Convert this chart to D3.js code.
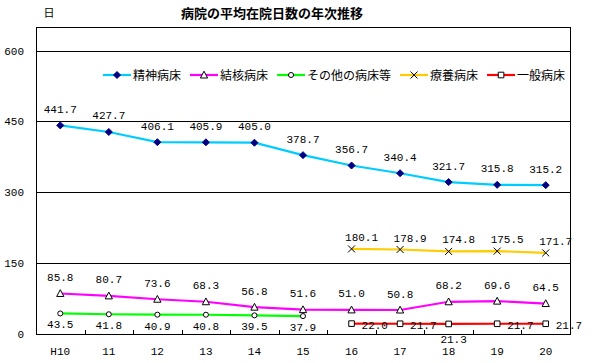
<!DOCTYPE html>
<html lang="ja">
<head>
<meta charset="utf-8"/>
<style>
  body { margin: 0; background: #fff; }
  svg { display: block; }
  .num { font-family: "Liberation Mono", "DejaVu Sans Mono", monospace; font-size: 11px; fill: #000; }
  .jp { font-family: "Noto Sans CJK JP", sans-serif; fill: #000; }
</style>
</head>
<body>
<svg id="chart" width="594" height="363"></svg>

<script src="https://d3js.org/d3.v7.min.js"></script>
<script>
// data
let years   = ["H10", "11", "12", "13", "14", "15", "16", "17", "18", "19", "20"]
let seishin = [441.7, 427.7, 406.1, 405.9, 405.0, 378.7, 356.7, 340.4, 321.7, 315.8, 315.2]
let kekkaku = [85.8, 80.7, 73.6, 68.3, 56.8, 51.6, 51.0, 50.8, 68.2, 69.6, 64.5]
let sonota  = [43.5, 41.8, 40.9, 40.8, 39.5, 37.9, null, null, null, null, null]
let ryoyo   = [null, null, null, null, null, null, 180.1, 178.9, 174.8, 175.5, 171.7]
let ippan   = [null, null, null, null, null, null, 22.0, 21.7, 21.3, 21.7, 21.7]
let yTicks  = [0, 150, 300, 450, 600]
let names   = ["精神病床", "結核病床", "その他の病床等", "療養病床", "一般病床"]

let plotL = 36, plotR = 570, plotT = 27, plotB = 334
let svg = d3.select("#chart")

let x = d3.scaleBand().domain(years).range([plotL, plotR])
let y = d3.scaleLinear().domain([0, 650]).range([plotB, plotT])
let cx = d => x(d) + x.bandwidth() / 2
let fmt = d3.format(".1f")

// marker shapes
let markers = {
  diamond: "M0,-3.5L3.5,0L0,3.5L-3.5,0Z",
  triangle: "M0,-3.8L3.6,3L-3.6,3Z",
  circle: d3.symbol(d3.symbolCircle, 20)(),
  cross: "M-3.5,-3.5L3.5,3.5M-3.5,3.5L3.5,-3.5",
  square: "M-2.8,-2.8H2.8V2.8H-2.8Z"
}

let series = [
  {name: names[0], values: seishin, color: "#00ccff", marker: "diamond", fill: "#000080", stroke: "#000080", label: "above"},
  {name: names[1], values: kekkaku, color: "#ff00ff", marker: "triangle", fill: "#fff", stroke: "#000", label: "above"},
  {name: names[2], values: sonota, color: "#00ff00", marker: "circle", fill: "#fff", stroke: "#000", label: "below"},
  {name: names[3], values: ryoyo, color: "#ffcc00", marker: "cross", fill: "none", stroke: "#000", label: "aboveRight"},
  {name: names[4], values: ippan, color: "#ff0000", marker: "square", fill: "#fff", stroke: "#000", label: "right"}
]
// where the 一般病床 labels sit (H18 sits under its point)
let ippanLabelPos = ["right", "right", "below", "right", "right"]

// title + unit
svg.append("text").attr("class", "jp")
  .attr("x", 272).attr("y", 18)
  .attr("text-anchor", "middle")
  .attr("font-size", 13).attr("font-weight", "bold")
  .text("病院の平均在院日数の年次推移")
svg.append("text").attr("class", "jp")
  .attr("x", 49).attr("y", 17)
  .attr("text-anchor", "middle")
  .attr("font-size", 11)
  .text("日")

// y grid + labels
let yAxis = svg.append("g")
  .attr("transform", `translate(${plotL},0)`)
  .call(d3.axisLeft(y).tickValues(yTicks).tickSize(-(plotR - plotL)).tickPadding(12).tickFormat(d3.format("d")))
yAxis.select(".domain").remove()
yAxis.selectAll("line").attr("stroke", "#000").attr("shape-rendering", "crispEdges")
yAxis.selectAll("text").attr("font-size", 11)
  .attr("font-family", "Liberation Mono, DejaVu Sans Mono, monospace")

// x labels
let xAxis = svg.append("g")
  .attr("transform", `translate(0,${plotB})`)
  .call(d3.axisBottom(x).tickSize(0).tickPadding(13))
xAxis.select(".domain").remove()
xAxis.selectAll("text").attr("font-size", 11)
  .attr("font-family", "Liberation Mono, DejaVu Sans Mono, monospace")

// small inward ticks between categories
svg.append("g").selectAll("line")
  .data(years.slice(1))
  .enter().append("line")
  .attr("x1", d => Math.round(x(d)) + 0.5).attr("x2", d => Math.round(x(d)) + 0.5)
  .attr("y1", plotB - 4).attr("y2", plotB)
  .attr("stroke", "#000")

// lines
let line = d3.line()
  .defined(d => d.v != null)
  .x(d => cx(d.year))
  .y(d => y(d.v))

series.forEach(s => {
  s.points = years.map((yr, i) => ({year: yr, v: s.values[i]}))
})

svg.append("g").selectAll("path")
  .data(series)
  .enter().append("path")
  .attr("d", s => line(s.points))
  .attr("fill", "none")
  .attr("stroke", s => s.color)
  .attr("stroke-width", 2.2)

// markers
series.forEach(s => {
  svg.append("g").selectAll("path")
    .data(s.points.filter(p => p.v != null))
    .enter().append("path")
    .attr("transform", p => `translate(${cx(p.year)},${y(p.v)})`)
    .attr("d", markers[s.marker])
    .attr("fill", s.fill)
    .attr("stroke", s.stroke)
    .attr("stroke-width", 1)
})

// data labels
series.forEach(s => {
  let pts = s.points.filter(p => p.v != null)
  svg.append("g").selectAll("text")
    .data(pts)
    .enter().append("text")
    .attr("class", "num")
    .text(p => fmt(p.v))
    .each(function(p, i) {
      let px = cx(p.year), py = y(p.v)
      let pos = s.label == "right" ? ippanLabelPos[i] : s.label
      let t = d3.select(this)
      if (pos == "above") t.attr("x", px).attr("y", py - 12.5).attr("text-anchor", "middle")
      if (pos == "below") t.attr("x", px).attr("y", py + 15).attr("text-anchor", "middle")
      if (pos == "aboveRight") t.attr("x", px + 10).attr("y", py - 8).attr("text-anchor", "middle")
      if (pos == "right") t.attr("x", px + 10).attr("y", py + 5.5).attr("text-anchor", "start")
      if (pos == "below" && s.label == "right") t.attr("x", px + 5).attr("y", py + 19)
    })
})

// legend
let lg = svg.append("g").attr("transform", "translate(103,75)")
let lx = 0
series.forEach(s => {
  let g = lg.append("g").attr("transform", `translate(${lx},0)`)
  g.append("line").attr("x1", 0).attr("x2", 28).attr("y1", 0).attr("y2", 0)
    .attr("stroke", s.color).attr("stroke-width", 2.2)
  g.append("path").attr("transform", "translate(14,0)")
    .attr("d", markers[s.marker])
    .attr("fill", s.fill).attr("stroke", s.stroke)
  let t = g.append("text").attr("class", "jp")
    .attr("x", 30).attr("y", 4.5)
    .attr("font-size", 12)
    .text(s.name)
  lx += 30 + t.node().getComputedTextLength() + 9
})

// plot border on top
svg.append("rect")
  .attr("x", plotL + 0.5).attr("y", plotT + 0.5)
  .attr("width", plotR - plotL).attr("height", plotB - plotT)
  .attr("fill", "none").attr("stroke", "#000")
</script>
</body>
</html>
